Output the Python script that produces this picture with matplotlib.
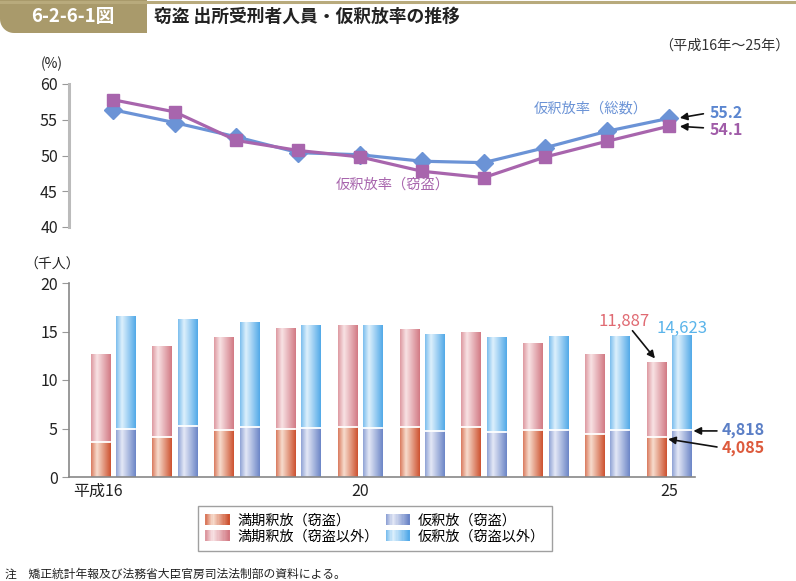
import numpy as np
import matplotlib
matplotlib.use('Agg')
import matplotlib.pyplot as plt
from matplotlib.patches import Polygon, Patch, Rectangle
from matplotlib.legend_handler import HandlerBase
from matplotlib.transforms import ScaledTranslation

plt.rcParams['font.family'] = ['Noto Sans CJK JP', 'DejaVu Sans']

# ---- data ----
years = [16, 17, 18, 19, 20, 21, 22, 23, 24, 25]
rate_total = [56.4, 54.6, 52.6, 50.4, 50.1, 49.2, 49.0, 51.1, 53.4, 55.2]
rate_theft = [57.8, 56.1, 52.1, 50.7, 49.8, 47.8, 46.9, 49.8, 52.0, 54.1]
expiry_theft = [3.6, 4.1, 4.8, 4.95, 5.2, 5.15, 5.2, 4.8, 4.45, 4.085]
expiry_other = [9.1, 9.4, 9.6, 10.45, 10.5, 10.1, 9.7, 9.0, 8.25, 7.802]
parole_theft = [4.95, 5.25, 5.2, 5.1, 5.1, 4.7, 4.6, 4.8, 4.8, 4.818]
parole_other = [11.65, 11.05, 10.8, 10.6, 10.6, 10.0, 9.8, 9.7, 9.75, 9.805]
xtick_labels = ['平成16', '20', '25']
legend_labels = ['満期釈放（窃盗）', '満期釈放（窃盗以外）', '仮釈放（窃盗）', '仮釈放（窃盗以外）']

W, H = 796, 581
fig = plt.figure(figsize=(W / 100, H / 100), dpi=100)

def fx(px): return px / W
def fy(py): return 1 - py / H

# colours: (dark, light) pairs for the cylinder-like shading
C_RED = ('#cd5230', '#f7dccd')
C_PINK = ('#d27a84', '#f8e2e4')
C_BLUE = ('#6c86c7', '#e4e8f6')
C_SKY = ('#52a9e8', '#ddf0fc')
LINE_BLUE, LINE_PURPLE = '#6b93d6', '#a865ad'

def ramp(cols, n=64):
    dark = np.array(matplotlib.colors.to_rgb(cols[0]))
    light = np.array(matplotlib.colors.to_rgb(cols[1]))
    t = np.linspace(0, 1, n)
    w = np.where(t < 0.3, 0.3 + 0.7 * t / 0.3, 1 - (t - 0.3) / 0.7)
    return dark[None, :] * (1 - w[:, None]) + light[None, :] * w[:, None]

# ---------------------------------------------------------------- header
gold = '#a99a6b'
fig.add_artist(plt.Line2D([0, 1], [fy(1.5), fy(1.5)], color='#b8aa7c', lw=2.2, transform=fig.transFigure))
r = 14
ang = np.linspace(np.pi, 1.5 * np.pi, 12)
corner = [(fx(r + r * np.cos(a)), fy(33 - r) - (r * -np.sin(a)) / H) for a in ang]
verts = [(0, fy(0)), (fx(147), fy(0)), (fx(147), fy(33))] + corner[::-1] + [(0, fy(33 - r))]
fig.add_artist(Polygon(verts, closed=True, fc=gold, ec='none', transform=fig.transFigure))
fig.text(fx(73), fy(17), '6-2-6-1図', color='white', fontsize=13.5, fontweight='bold',
         ha='center', va='center')
fig.text(fx(154), fy(17), '窃盗 出所受刑者人員・仮釈放率の推移', color='#222', fontsize=12.8,
         fontweight='bold', ha='left', va='center')
fig.text(fx(790), fy(46), '（平成16年～25年）', color='#333', fontsize=10.2, ha='right', va='center')

XL = (15.29, 25.42)

# ---------------------------------------------------------------- top: rates
ax1 = fig.add_axes([fx(69), fy(227), fx(695 - 69), (227 - 84) / H])
ax1.plot(years, rate_total, color=LINE_BLUE, lw=2.3, marker='D', ms=9, zorder=3)
ax1.plot(years, rate_theft, color=LINE_PURPLE, lw=2.3, marker='s', ms=8, zorder=4)
ax1.set_xlim(*XL)
ax1.set_ylim(40, 60)
ax1.set_yticks([40, 45, 50, 55, 60])
ax1.set_xticks([])
for s in ('top', 'right', 'bottom'):
    ax1.spines[s].set_visible(False)
ax1.spines['left'].set_color('#bbbbbb')
ax1.spines['left'].set_linewidth(2.2)
ax1.tick_params(axis='y', length=5, color='#999', labelsize=11.5, labelcolor='#222', pad=3)
fig.text(fx(52), fy(64), '(%)', fontsize=10, ha='center', va='center', color='#222')
ax1.text(23.74, 56.6, '仮釈放率（総数）', color=LINE_BLUE, fontsize=10.3, ha='center', va='center')
ax1.text(20.53, 45.9, '仮釈放率（窃盗）', color=LINE_PURPLE, fontsize=10.3, ha='center', va='center')
ax1.text(25.66, 55.9, '55.2', color='#5b86d0', fontsize=11.5, fontweight='bold', ha='left', va='center')
ax1.text(25.66, 53.6, '54.1', color='#a05ca8', fontsize=11.5, fontweight='bold', ha='left', va='center')
arr = dict(arrowstyle='-|>', color='#111', lw=1.2, mutation_scale=11)
ax1.annotate('', xy=(25.13, 55.2), xytext=(25.6, 55.9), arrowprops=arr, annotation_clip=False)
ax1.annotate('', xy=(25.13, 54.1), xytext=(25.6, 53.85), arrowprops=arr, annotation_clip=False)

# ---------------------------------------------------------------- bottom: counts
ax2 = fig.add_axes([fx(69), fy(477), fx(695 - 69), (477 - 283) / H])
x = np.array(years, dtype=float)
bw, off = 0.31, 0.205

def shade(ax, bars, cols):
    img = ramp(cols)[None, :, :]
    for b in bars:
        x0, y0, bwid, bh = b.get_x(), b.get_y(), b.get_width(), b.get_height()
        im = ax.imshow(img, extent=[x0, x0 + bwid, y0, y0 + bh], aspect='auto',
                       interpolation='bilinear', zorder=2)
        im.set_clip_path(b)
        b.set_facecolor('none')

b1 = ax2.bar(x - off, expiry_theft, bw, ec='none', zorder=3)
b2 = ax2.bar(x - off, expiry_other, bw, bottom=expiry_theft, ec='none', zorder=3)
b3 = ax2.bar(x + off, parole_theft, bw, ec='none', zorder=3)
b4 = ax2.bar(x + off, parole_other, bw, bottom=parole_theft, ec='none', zorder=3)
shade(ax2, b1, C_RED)
shade(ax2, b2, C_PINK)
shade(ax2, b3, C_BLUE)
shade(ax2, b4, C_SKY)
for b in list(b1) + list(b3):
    ax2.plot([b.get_x(), b.get_x() + b.get_width()], [b.get_height()] * 2, color='white', lw=1.3, zorder=4)

ax2.set_xlim(*XL)
ax2.set_ylim(0, 20)
ax2.set_yticks([0, 5, 10, 15, 20])
ax2.set_xticks([16, 20, 25])
ax2.set_xticklabels(xtick_labels)
for s in ('top', 'right'):
    ax2.spines[s].set_visible(False)
for s in ('left', 'bottom'):
    ax2.spines[s].set_color('#888')
    ax2.spines[s].set_linewidth(1.2)
    ax2.spines[s].set_zorder(5)
ax2.tick_params(axis='y', length=5, color='#999', labelsize=11.5, labelcolor='#222', pad=3)
ax2.tick_params(axis='x', length=0, labelsize=11.5, labelcolor='#222', pad=4)
lab0 = ax2.get_xticklabels()[0]
lab0.set_transform(lab0.get_transform() + ScaledTranslation(-0.15, 0, fig.dpi_scale_trans))
fig.text(fx(52), fy(265), '（千人）', fontsize=10, ha='center', va='center', color='#222')

ax2.text(24.27, 16.0, '11,887', color='#e06a72', fontsize=12, ha='center', va='center')
ax2.text(25.21, 15.3, '14,623', color='#5ab4ea', fontsize=12, ha='center', va='center')
ax2.text(25.85, 4.85, '4,818', color='#5b7fc6', fontsize=11.5, fontweight='bold', ha='left', va='center')
ax2.text(25.85, 2.95, '4,085', color='#dd5a3c', fontsize=11.5, fontweight='bold', ha='left', va='center')
ax2.annotate('', xy=(24.8, 12.0), xytext=(24.38, 15.3), arrowprops=arr, annotation_clip=False)
ax2.annotate('', xy=(25.35, 4.75), xytext=(25.82, 4.75), arrowprops=arr, annotation_clip=False)
ax2.annotate('', xy=(24.94, 3.95), xytext=(25.82, 3.05), arrowprops=arr, annotation_clip=False)

# ---------------------------------------------------------------- legend + note
class GradHandler(HandlerBase):
    def __init__(self, cols):
        super().__init__()
        self.cols = cols

    def create_artists(self, legend, orig, xd, yd, width, height, fontsize, trans):
        c = ramp(self.cols, 20)
        n = len(c)
        return [Rectangle((xd * -1 + width * i / n, -yd), width / n + 0.3, height,
                          fc=c[i], ec='none', transform=trans) for i in range(n)]

handles = [Patch(label=l) for l in legend_labels]
hmap = {h: GradHandler(c) for h, c in zip(handles, (C_RED, C_PINK, C_BLUE, C_SKY))}
leg = fig.legend(handles, legend_labels, handler_map=hmap, ncol=2, loc='center',
                 bbox_to_anchor=(fx(375), fy(528.5)), fontsize=10.2, frameon=True, fancybox=False,
                 edgecolor='#888', handlelength=1.7, handleheight=0.75, columnspacing=0.5,
                 labelspacing=0.15, borderpad=0.5, handletextpad=0.55)
leg.get_frame().set_linewidth(1.0)
fig.text(fx(5), fy(574), '注　矯正統計年報及び法務省大臣官房司法法制部の資料による。', fontsize=8.5,
         ha='left', va='center', color='#222')

fig.savefig('out.png', dpi=100)
